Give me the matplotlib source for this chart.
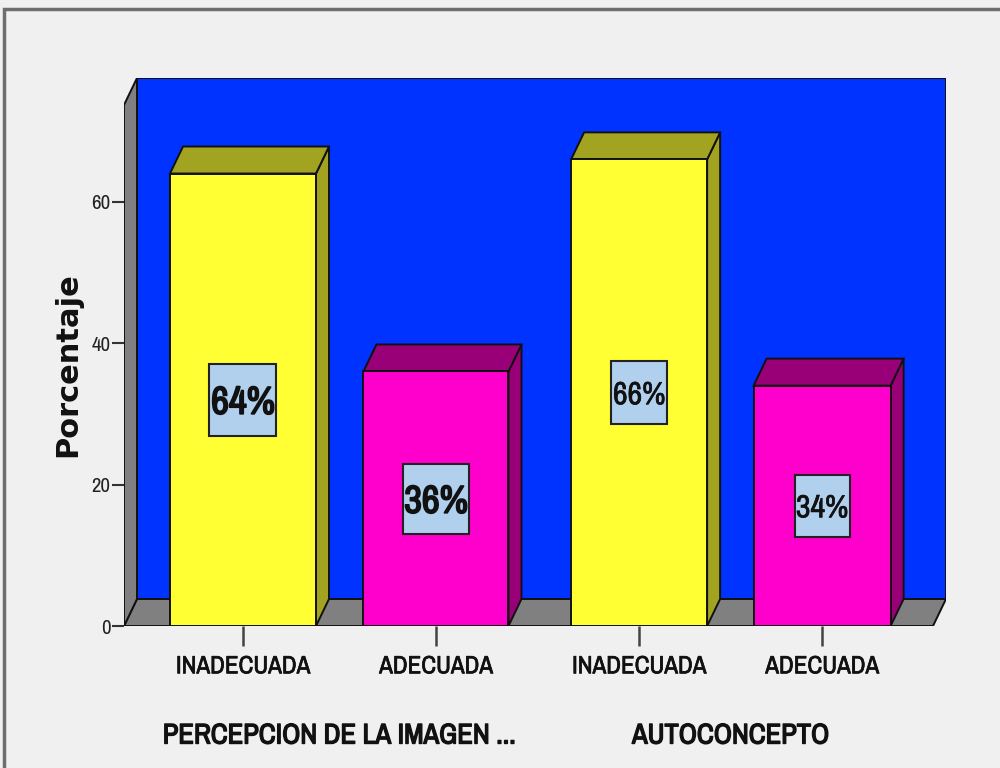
import matplotlib
matplotlib.use("Agg")
import matplotlib.pyplot as plt
import matplotlib.patheffects as pe
from matplotlib.patches import Polygon, Rectangle

# Datos (porcentajes)
categorias = ["INADECUADA", "ADECUADA", "INADECUADA", "ADECUADA"]
porcentajes = [64, 36, 66, 34]
etiquetas = ["64%", "36%", "66%", "34%"]
grupos = ["PERCEPCION DE LA IMAGEN ...", "AUTOCONCEPTO"]
ticks_y = [0, 20, 40, 60]

# Colores
azul = "#0033ff"
gris = "#808080"
caras = [("#ffff33", "#a3a322"), ("#ff00cc", "#990077"),
         ("#ffff33", "#a3a322"), ("#ff00cc", "#990077")]
caja = "#b0d0ee"
negro = "#111111"

# Geometria (en pixeles de la figura 1000x768)
W, H = 1000, 768
AX_L, AX_R, AX_B, AX_T = 124, 946, 626, 78
PX_Y = 7.07                  # pixeles por punto porcentual
XMAX = 4.2
PX_X = (AX_R - AX_L) / XMAX  # pixeles por unidad x
DX = 13 / PX_X
DY = 27 / PX_Y
YMAX = (AX_B - AX_T) / PX_Y
Y_PARED = YMAX - DY
X_SUELO = XMAX - DX

centros = [0.608, 1.594, 2.632, 3.567]
anchos = [0.746, 0.741, 0.695, 0.700]
cajas_px = [(67, 72), (66, 70), (56, 63), (55, 62)]
tam_etiq = [28, 28, 23, 23]
trazo_etiq = [1.3, 1.3, 0.5, 0.5]

narrow = ["Archivo Narrow", "Liberation Sans", "DejaVu Sans"]


def grueso(lw):
    # engrosa el trazo (la fuente estrecha solo tiene peso normal)
    return [pe.withStroke(linewidth=lw, foreground=negro)]


fig = plt.figure(figsize=(W / 100, H / 100), dpi=100, facecolor="#f0f0f0")
fig.patches.append(Rectangle((4 / W, -0.05), 1.1, 1 - 9 / H + 0.05,
                             transform=fig.transFigure, fill=False,
                             edgecolor="#6e6e6e", lw=2.5))

ax = fig.add_axes([AX_L / W, 1 - AX_B / H, (AX_R - AX_L) / W, (AX_B - AX_T) / H])
ax.set_xlim(0, XMAX)
ax.set_ylim(0, YMAX)
ax.patch.set_visible(False)
for s in ax.spines.values():
    s.set_visible(False)

ec = "#111111"
lw = 1.4
# pared del fondo
ax.add_patch(Rectangle((DX, DY), XMAX - DX, YMAX - DY, facecolor=azul, edgecolor=ec, lw=lw))
# suelo
ax.add_patch(Polygon([(0, 0), (X_SUELO, 0), (XMAX, DY), (DX, DY)],
                     facecolor=gris, edgecolor=ec, lw=lw))
# pared izquierda
ax.add_patch(Polygon([(0, 0), (0, Y_PARED), (DX, YMAX), (DX, DY)],
                     facecolor=gris, edgecolor=ec, lw=lw))

# barras 3D
for c, w, v, (frente, oscuro) in zip(centros, anchos, porcentajes, caras):
    l, r = c - w / 2, c + w / 2
    ax.add_patch(Polygon([(r, 0), (r + DX, DY), (r + DX, v + DY), (r, v)],
                         facecolor=oscuro, edgecolor=ec, lw=lw))
    ax.add_patch(Polygon([(l, v), (r, v), (r + DX, v + DY), (l + DX, v + DY)],
                         facecolor=oscuro, edgecolor=ec, lw=lw))
    ax.add_patch(Rectangle((l, 0), w, v, facecolor=frente, edgecolor=ec, lw=lw))

# etiquetas de porcentaje
for c, v, txt, (bw, bh), fs, tr in zip(centros, porcentajes, etiquetas,
                                        cajas_px, tam_etiq, trazo_etiq):
    bw_d, bh_d = bw / PX_X, bh / PX_Y
    ax.add_patch(Rectangle((c - bw_d / 2, v / 2 - bh_d / 2), bw_d, bh_d,
                           facecolor=caja, edgecolor="#222222", lw=1.5, zorder=5))
    ax.text(c, v / 2, txt, ha="center", va="center_baseline", fontsize=fs,
            family=narrow, color=negro, zorder=6, path_effects=grueso(tr))

# ejes
ax.set_yticks(ticks_y)
ax.set_yticklabels([str(t) for t in ticks_y], family=narrow, fontsize=15, color="#222222")
ax.tick_params(axis="y", length=8.6, width=1.5, color="#333333", pad=1)
ax.set_xticks(centros)
ax.set_xticklabels(categorias, family=narrow, fontsize=18, color=negro)
for t in ax.get_xticklabels():
    t.set_path_effects(grueso(0.5))
ax.tick_params(axis="x", length=14.4, width=1.8, color="#444444", pad=6)

for g, (i, j) in zip(grupos, [(0, 1), (2, 3)]):
    ax.text((centros[i] + centros[j]) / 2, (AX_B - 736) / (AX_B - AX_T), g,
            transform=ax.get_xaxis_transform(), ha="center", va="center",
            fontsize=20.5, family=narrow, color=negro, path_effects=grueso(1.0))

fig.text(68 / W, 1 - 365 / H, "Porcentaje", rotation=90, ha="center", va="center",
         fontsize=22, fontweight="bold", family="DejaVu Sans", color=negro)

fig.savefig("out.png", dpi=100, facecolor=fig.get_facecolor())
